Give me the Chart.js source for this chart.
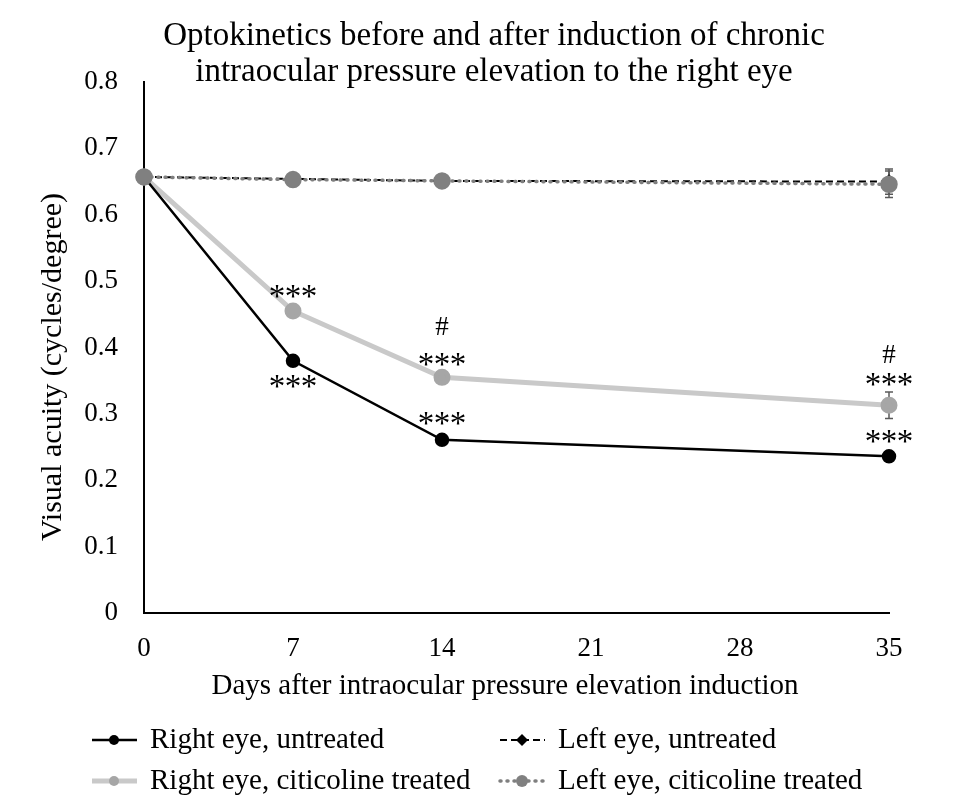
<!DOCTYPE html>
<html>
<head>
<meta charset="utf-8">
<script src="https://cdn.jsdelivr.net/npm/chart.js@4"></script>
<style>
  html, body { margin: 0; padding: 0; background: #fff; }
  #wrap { width: 958px; height: 805px; }
</style>
</head>
<body>
<div id="wrap"><canvas id="myChart" width="958" height="805"></canvas></div>
<script>
// days after induction
const days = [0, 7, 14, 35];
const xTicks = [0, 7, 14, 21, 28, 35];
const yTicks = [0, 0.1, 0.2, 0.3, 0.4, 0.5, 0.6, 0.7, 0.8];

// visual acuity values
const rightUntreated = [0.657, 0.380, 0.261, 0.236];
const rightUntreatedErr = [0.003, 0.004, 0.004, 0.003];
const leftUntreated = [0.657, 0.654, 0.651, 0.650];
const leftUntreatedErr = [0.003, 0.002, 0.002, 0.019];
const rightCiticoline = [0.657, 0.455, 0.355, 0.313];
const rightCiticolineErr = [0.003, 0.006, 0.004, 0.020];
const leftCiticoline = [0.657, 0.653, 0.651, 0.646];
const leftCiticolineErr = [0.003, 0.002, 0.002, 0.020];

const labels = [
  'Right eye, untreated',
  'Left eye, untreated',
  'Right eye, citicoline treated',
  'Left eye, citicoline treated'
];

const chartTitle = ['Optokinetics before and after induction of chronic',
                    'intraocular pressure elevation to the right eye'];
const xTitle = 'Days after intraocular pressure elevation induction';
const yTitle = 'Visual acuity (cycles/degree)';

// significance marks: dataset index, point index, text
const marks = [
  [2, 1, '***'], [0, 1, '***'],
  [2, 2, '#'], [2, 2, '***'], [0, 2, '***'],
  [2, 3, '#'], [2, 3, '***'], [0, 3, '***']
];
// pixel offsets of the marks from their point
const markOffsets = [-21, 20, -49, -19, -22, -49, -27, -21];

const FONT = "'Liberation Serif', 'Times New Roman', serif";

function toPoints(values) {
  return days.map((d, i) => ({ x: d, y: values[i] }));
}

const errors = [rightUntreatedErr, leftUntreatedErr, rightCiticolineErr, leftCiticolineErr];

// error bars (under the markers) and the text marks
const errorBars = {
  id: 'errorBars',
  beforeDatasetsDraw(chart) {
    const ctx = chart.ctx;
    const xs = chart.scales.x, ys = chart.scales.y;
    ctx.save();
    ctx.strokeStyle = '#595959';
    ctx.lineWidth = 1.5;
    chart.data.datasets.forEach((ds, di) => {
      ds.data.forEach((p, i) => {
        const e = errors[di][i];
        const x = xs.getPixelForValue(p.x);
        const y1 = ys.getPixelForValue(p.y - e);
        const y2 = ys.getPixelForValue(p.y + e);
        ctx.beginPath();
        ctx.moveTo(x, y1); ctx.lineTo(x, y2);
        ctx.moveTo(x - 4, y1); ctx.lineTo(x + 4, y1);
        ctx.moveTo(x - 4, y2); ctx.lineTo(x + 4, y2);
        ctx.stroke();
      });
    });
    ctx.restore();
  },
  afterDraw(chart) {
    const ctx = chart.ctx;
    const xs = chart.scales.x, ys = chart.scales.y;
    const area = chart.chartArea;
    ctx.save();
    ctx.fillStyle = '#000';
    ctx.textAlign = 'center';
    ctx.textBaseline = 'middle';
    marks.forEach((m, k) => {
      const p = chart.data.datasets[m[0]].data[m[1]];
      const x = xs.getPixelForValue(p.x);
      const y = ys.getPixelForValue(p.y) + markOffsets[k];
      if (m[2] === '***') {
        ctx.font = '33px ' + FONT;
        ctx.fillText('*', x - 16, y + 8);
        ctx.fillText('*', x, y + 8);
        ctx.fillText('*', x + 16, y + 8);
      } else {
        ctx.font = '27px ' + FONT;
        ctx.fillText(m[2], x, y);
      }
    });

    // titles
    ctx.font = '33px ' + FONT;
    ctx.fillText(chartTitle[0], 494, 36);
    ctx.fillText(chartTitle[1], 494, 72);
    ctx.font = '29px ' + FONT;
    ctx.fillText(xTitle, 505, area.bottom + 73);
    ctx.translate(53, 367);
    ctx.rotate(-Math.PI / 2);
    ctx.font = '30px ' + FONT;
    ctx.fillText(yTitle, 0, 0);
    ctx.restore();
  }
};

// two-column legend at the bottom
const bottomLegend = {
  id: 'bottomLegend',
  afterDraw(chart) {
    const ctx = chart.ctx;
    const cols = [92, 500];
    const rows = [740, 781];
    ctx.save();
    chart.data.datasets.forEach((ds, k) => {
      const x0 = cols[k % 2];
      const y = rows[Math.floor(k / 2)];
      const cx = x0 + 22;
      const r = ds.pointStyle === 'rectRot' ? ds.pointRadius : ds.pointRadius - 1;
      ctx.strokeStyle = ds.borderColor;
      ctx.lineWidth = ds.borderWidth;
      ctx.setLineDash(ds.borderDash || []);
      ctx.lineCap = ds.borderCapStyle || 'butt';
      ctx.beginPath();
      ctx.moveTo(x0, y); ctx.lineTo(x0 + 45, y);
      ctx.stroke();
      ctx.setLineDash([]);
      ctx.fillStyle = ds.pointBackgroundColor;
      ctx.beginPath();
      if (ds.pointStyle === 'rectRot') {
        ctx.moveTo(cx, y - r); ctx.lineTo(cx + r, y);
        ctx.lineTo(cx, y + r); ctx.lineTo(cx - r, y);
        ctx.closePath();
      } else {
        ctx.arc(cx, y, r, 0, Math.PI * 2);
      }
      ctx.fill();
      ctx.fillStyle = '#000';
      ctx.font = '29px ' + FONT;
      ctx.textAlign = 'left';
      ctx.textBaseline = 'middle';
      ctx.fillText(ds.label, x0 + 58, y);
    });
    ctx.restore();
  }
};

const myChart = document.getElementById('myChart');

let lineChart = new Chart(myChart, {
  type: 'line',
  data: {
    datasets: [
      {
        label: labels[0],
        data: toPoints(rightUntreated),
        borderColor: '#000000',
        borderWidth: 2.5,
        pointStyle: 'circle',
        pointRadius: 6,
        pointBackgroundColor: '#000000',
        pointBorderColor: '#000000',
        order: 3
      },
      {
        label: labels[1],
        data: toPoints(leftUntreated),
        borderColor: '#000000',
        borderWidth: 2,
        borderDash: [7, 4],
        pointStyle: 'rectRot',
        pointRadius: 6,
        pointBackgroundColor: '#000000',
        pointBorderColor: '#000000',
        order: 2
      },
      {
        label: labels[2],
        data: toPoints(rightCiticoline),
        borderColor: '#c9c9c9',
        borderWidth: 5,
        pointStyle: 'circle',
        pointRadius: 6,
        pointBackgroundColor: '#a6a6a6',
        pointBorderColor: '#a6a6a6',
        order: 4
      },
      {
        label: labels[3],
        data: toPoints(leftCiticoline),
        borderColor: '#7f7f7f',
        borderWidth: 3.5,
        borderDash: [1, 6],
        borderCapStyle: 'round',
        pointStyle: 'circle',
        pointRadius: 7,
        pointBackgroundColor: '#808080',
        pointBorderColor: '#808080',
        order: 1
      }
    ]
  },
  options: {
    responsive: false,
    animation: false,
    events: [],
    clip: false,
    elements: { line: { tension: 0 } },
    layout: { padding: { left: 0, right: 69, top: 82, bottom: 105 } },
    plugins: {
      legend: { display: false },
      tooltip: { enabled: false },
      title: { display: false }
    },
    scales: {
      x: {
        type: 'linear',
        min: 0,
        max: 35,
        afterBuildTicks: (s) => { s.ticks = xTicks.map(v => ({ value: v })); },
        grid: { display: false, drawTicks: false },
        border: { color: '#000', width: 2 },
        ticks: { color: '#000', padding: 20, font: { family: FONT, size: 27 } },
        afterFit: (s) => { s.height = 87; }
      },
      y: {
        min: 0,
        max: 0.8,
        afterBuildTicks: (s) => { s.ticks = yTicks.map(v => ({ value: v })); },
        grid: { display: false, drawTicks: false },
        border: { color: '#000', width: 2 },
        ticks: {
          color: '#000',
          padding: 26,
          font: { family: FONT, size: 27 },
          callback: (v) => String(Math.round(v * 10) / 10)
        },
        afterFit: (s) => { s.width = 144; }
      }
    }
  },
  plugins: [errorBars, bottomLegend]
});
</script>
</body>
</html>
